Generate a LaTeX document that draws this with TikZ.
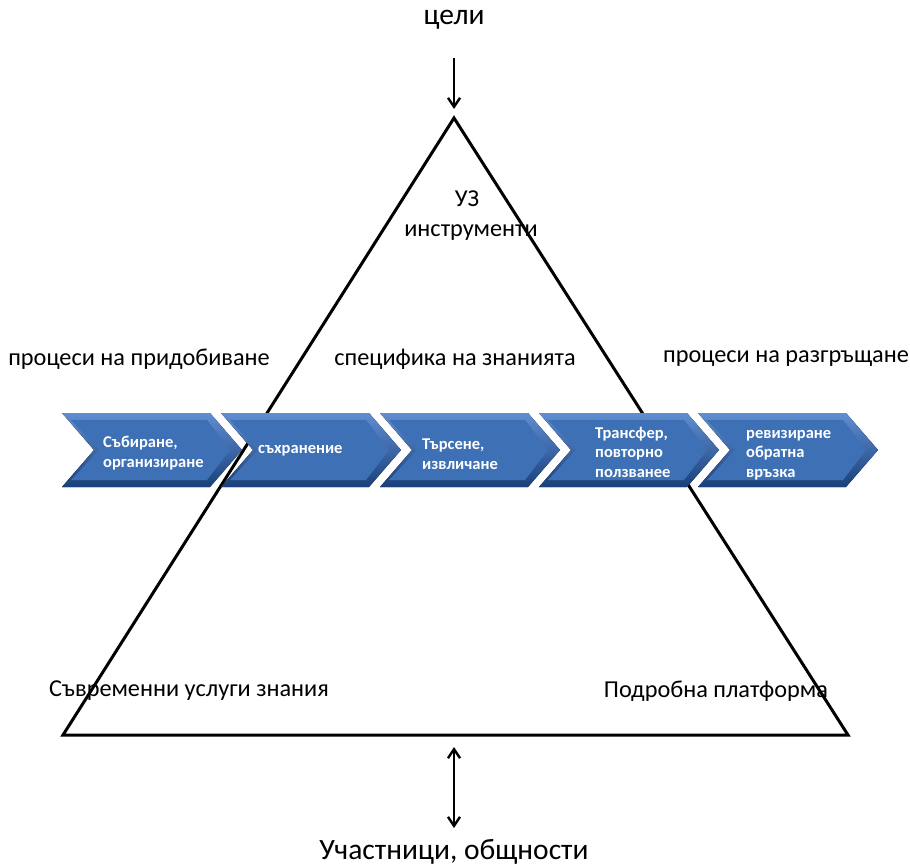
\documentclass[tikz,border=0pt]{standalone}
\usepackage{fontspec}
\setmainfont{Carlito}
\usetikzlibrary{arrows.meta}
\definecolor{chevlight}{RGB}{96,142,210}
\definecolor{chevdark}{RGB}{26,64,122}
\definecolor{chevmid}{RGB}{62,112,182}
\begin{document}
\begin{tikzpicture}[x=1pt,y=-1pt,
  label/.style={font=\fontsize{24.3}{28}\selectfont, inner sep=0pt},
  biglabel/.style={font=\fontsize{29.5}{34}\selectfont, inner sep=0pt},
  chevtext/.style={font=\fontsize{16.5}{19.5}\selectfont\bfseries, text=white, align=left, anchor=west, inner sep=0pt},
  frame/.style={line width=3pt, line join=miter},
  pointer/.style={line width=2.4pt, -{Straight Barb[length=9pt,width=12pt,line width=2.4pt]}},
  twoway/.style={line width=2.4pt, {Straight Barb[length=9pt,width=12pt,line width=2.4pt]}-{Straight Barb[length=9pt,width=12pt,line width=2.4pt]}}
]
\useasboundingbox (0,0) rectangle (910,867);

% triangle
\coordinate (apex) at (454,118);
\coordinate (bl) at (63,735);
\coordinate (br) at (848,735);
\draw[frame] (apex) -- (bl) -- (br) -- cycle;

% top and bottom labels with arrows
\node[biglabel] (goal) at (454,20) {цели};
\node[biglabel] (people) at (454,852) {Участници, общности};
\coordinate (inTop) at (454,58);
\coordinate (inBot) at (454,109);
\draw[pointer] (inTop) -- (inBot);
\coordinate (ioTop) at (454,747);
\coordinate (ioBot) at (454,828);
\draw[twoway] (ioTop) -- (ioBot);

% labels
\node[label] (uz) at (467,199) {УЗ};
\node[label] (tools) at (471,233) {инструменти};
\node[label] (acq) at (139,359) {процеси на придобиване};
\node[label] (spec) at (455,359) {специфика на знанията};
\node[label] (depl) at (786,359) {процеси на разгръщане};
\node[label] (serv) at (189,691) {Съвременни услуги знания};
\node[label] (plat) at (716,691) {Подробна платформа};

% chevron process row
\foreach \L in {62,221,380,539,698}{
  \pgfmathsetmacro{\R}{\L+180}
  \pgfmathsetmacro{\Rc}{\L+148}
  \pgfmathsetmacro{\N}{\L+32}
  \fill[top color=chevlight, bottom color=chevdark]
    (\L,413) -- (\Rc,413) -- (\R,450) -- (\Rc,487) -- (\L,487) -- (\N,450) -- cycle;
  \pgfmathsetmacro{\Li}{\L+9}
  \pgfmathsetmacro{\Ri}{\L+168}
  \pgfmathsetmacro{\Rci}{\L+145}
  \pgfmathsetmacro{\Ni}{\L+37}
  \fill[chevmid]
    (\Li,420) -- (\Rci,420) -- (\Ri,450) -- (\Rci,480) -- (\Li,480) -- (\Ni,450) -- cycle;
}

\node[chevtext] (c1) at (103,453) {Събиране,\\организиране};
\node[chevtext] (c2) at (258,451) {съхранение};
\node[chevtext] (c3) at (422,454) {Търсене,\\извличане};
\node[chevtext] (c4) at (595,452) {Трансфер,\\повторно\\ползванее};
\node[chevtext] (c5) at (746,455) {ревизиране\\обратна\\връзка};
\end{tikzpicture}
\end{document}
